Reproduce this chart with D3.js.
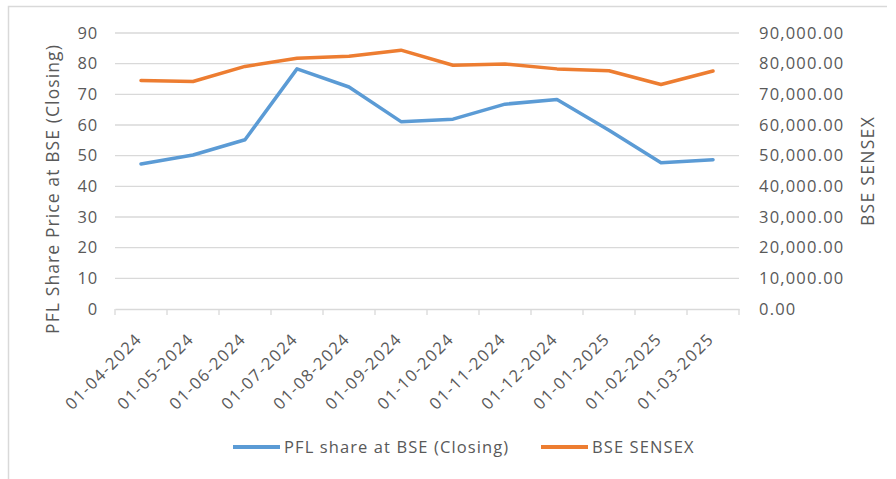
<!DOCTYPE html>
<html>
<head>
<meta charset="utf-8">
<script src="https://cdn.jsdelivr.net/npm/d3@7"></script>
<style>
  body { margin: 0; background: #fff; }
  text { font-family: "Open Sans", sans-serif; fill: #595959; }
</style>
</head>
<body>
<script>
// data
var months = ["01-04-2024", "01-05-2024", "01-06-2024", "01-07-2024", "01-08-2024", "01-09-2024",
              "01-10-2024", "01-11-2024", "01-12-2024", "01-01-2025", "01-02-2025", "01-03-2025"];
var pflClose = [47.3, 50.2, 55.2, 78.3, 72.4, 61.1, 61.9, 66.8, 68.3, 58.3, 47.7, 48.7];
var sensex = [74500, 74200, 79100, 81750, 82400, 84400, 79500, 79900, 78300, 77700, 73200, 77600];
var leftTicks = [0, 10, 20, 30, 40, 50, 60, 70, 80, 90];
var rightTicks = [0, 10000, 20000, 30000, 40000, 50000, 60000, 70000, 80000, 90000];

var W = 896, H = 479;
var plot = {left: 115, right: 739, top: 33, bottom: 309};

var svg = d3.select("body").append("svg")
    .attr("width", W)
    .attr("height", H);

// chart border (only top and left are in frame)
svg.append("path")
    .attr("d", "M8.5,479 V6.5 H887")
    .attr("fill", "none")
    .attr("stroke", "#d9d9d9")
    .attr("stroke-width", 1.5);

var x = d3.scaleBand().domain(months).range([plot.left, plot.right]).padding(0);
var y = d3.scaleLinear().domain([0, 90]).range([plot.bottom, plot.top]);
var y2 = d3.scaleLinear().domain([0, 90000]).range([plot.bottom, plot.top]);

// gridlines
svg.append("g")
  .selectAll("line")
  .data(leftTicks.slice(1))
  .enter().append("line")
    .attr("x1", plot.left)
    .attr("x2", plot.right)
    .attr("y1", function(d) { return y(d); })
    .attr("y2", function(d) { return y(d); })
    .attr("stroke", "#d9d9d9")
    .attr("stroke-width", 1.3);

// left axis
var yAxis = svg.append("g")
    .attr("transform", "translate(" + plot.left + ",0)")
    .call(d3.axisLeft(y).tickValues(leftTicks).tickSize(0).tickPadding(17));
yAxis.select(".domain").remove();
yAxis.selectAll("text")
    .style("font-size", "16.5px")
    .style("letter-spacing", "0.8px")
    .attr("fill", "#595959");

// right axis
var fmt = d3.format(",.2f");
var y2Axis = svg.append("g")
    .attr("transform", "translate(" + plot.right + ",0)")
    .call(d3.axisRight(y2).tickValues(rightTicks).tickFormat(fmt).tickSize(0).tickPadding(20));
y2Axis.select(".domain").remove();
y2Axis.selectAll("text")
    .style("font-size", "16.5px")
    .style("letter-spacing", "1.2px")
    .attr("fill", "#595959");

// bottom axis with ticks at category boundaries
var xAxis = svg.append("g")
    .attr("transform", "translate(0," + plot.bottom + ")")
    .call(d3.axisBottom(x).tickSize(0).tickPadding(0));
xAxis.select(".domain")
    .attr("stroke", "#d9d9d9")
    .attr("stroke-width", 1.3);
xAxis.selectAll(".tick text")
    .attr("text-anchor", "end")
    .attr("dx", 0)
    .attr("dy", 0)
    .attr("transform", "translate(2,31) rotate(-45)")
    .style("font-size", "16.5px")
    .style("letter-spacing", "1.4px")
    .attr("fill", "#595959");

svg.append("g")
  .selectAll("line")
  .data(months.concat(["end"]))
  .enter().append("line")
    .attr("x1", function(d, i) { return plot.left + i * x.bandwidth(); })
    .attr("x2", function(d, i) { return plot.left + i * x.bandwidth(); })
    .attr("y1", plot.bottom)
    .attr("y2", plot.bottom + 6)
    .attr("stroke", "#d9d9d9")
    .attr("stroke-width", 1.3);

// lines
var cx = function(d, i) { return x(months[i]) + x.bandwidth() / 2; };

svg.append("path")
    .datum(sensex)
    .attr("fill", "none")
    .attr("stroke", "#ed7d31")
    .attr("stroke-width", 3.5)
    .attr("stroke-linejoin", "round")
    .attr("stroke-linecap", "round")
    .attr("d", d3.line().x(cx).y(function(d) { return y2(d); }));

svg.append("path")
    .datum(pflClose)
    .attr("fill", "none")
    .attr("stroke", "#5b9bd5")
    .attr("stroke-width", 3.5)
    .attr("stroke-linejoin", "round")
    .attr("stroke-linecap", "round")
    .attr("d", d3.line().x(cx).y(function(d) { return y(d); }));

// axis titles
svg.append("text")
    .attr("transform", "translate(59,189) rotate(-90)")
    .attr("text-anchor", "middle")
    .style("font-size", "17.5px")
    .style("letter-spacing", "1.1px")
    .text("PFL Share Price at BSE (Closing)");

svg.append("text")
    .attr("transform", "translate(874,171) rotate(-90)")
    .attr("text-anchor", "middle")
    .style("font-size", "17.5px")
    .style("letter-spacing", "1.3px")
    .text("BSE SENSEX");

// legend
var legend = [
  {name: "PFL share at BSE (Closing)", color: "#5b9bd5", x: 233},
  {name: "BSE SENSEX", color: "#ed7d31", x: 541}
];
var lg = svg.append("g").selectAll("g")
  .data(legend)
  .enter().append("g")
    .attr("transform", function(d) { return "translate(" + d.x + ",447)"; });
lg.append("line")
    .attr("x1", 0).attr("x2", 47)
    .attr("stroke", function(d) { return d.color; })
    .attr("stroke-width", 4);
lg.append("text")
    .attr("x", 51)
    .attr("dy", "0.35em")
    .style("font-size", "16.5px")
    .style("letter-spacing", "1.1px")
    .text(function(d) { return d.name; });
</script>
</body>
</html>
